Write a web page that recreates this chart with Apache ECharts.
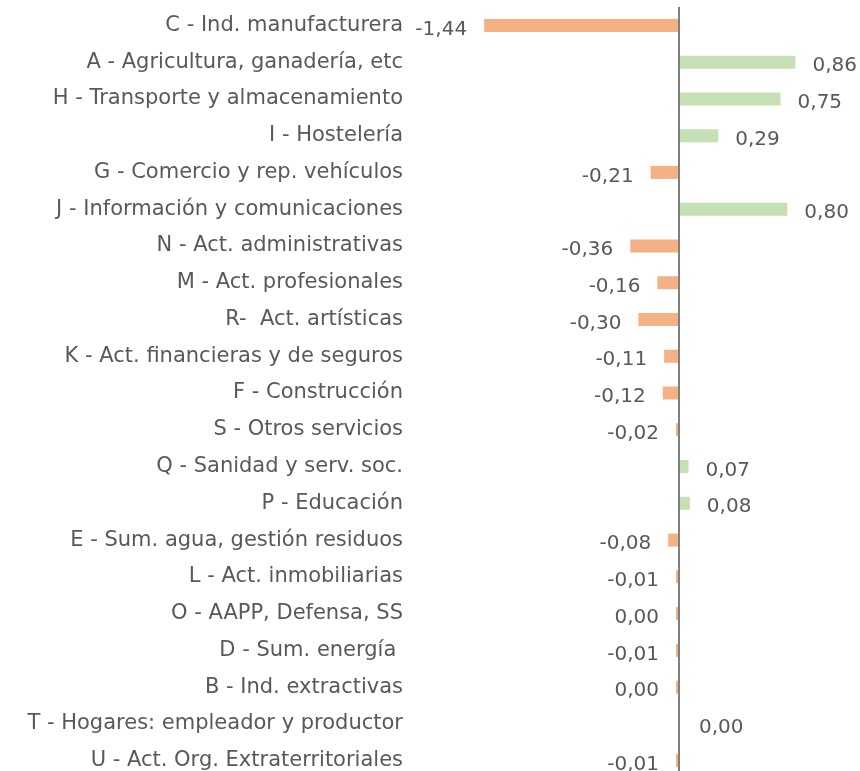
<!DOCTYPE html>
<html>
<head>
<meta charset="utf-8">
<script src="https://cdn.jsdelivr.net/npm/echarts@6/dist/echarts.min.js"></script>
<style>
  html, body { margin: 0; padding: 0; background: #fff; overflow: hidden; }
  #chart { width: 860px; height: 780px; }
</style>
</head>
<body>
<div id="chart"></div>
<script>
// sectores (de arriba a abajo)
var categorias = [
  "C - Ind. manufacturera",
  "A - Agricultura, ganadería, etc",
  "H - Transporte y almacenamiento",
  "I - Hostelería",
  "G - Comercio y rep. vehículos",
  "J - Información y comunicaciones",
  "N - Act. administrativas",
  "M - Act. profesionales",
  "R-  Act. artísticas",
  "K - Act. financieras y de seguros",
  "F - Construcción",
  "S - Otros servicios",
  "Q - Sanidad y serv. soc.",
  "P - Educación",
  "E - Sum. agua, gestión residuos",
  "L - Act. inmobiliarias",
  "O - AAPP, Defensa, SS",
  "D - Sum. energía ",
  "B - Ind. extractivas",
  "T - Hogares: empleador y productor",
  "U - Act. Org. Extraterritoriales"
];
// variación (puntos)
var valores = [-1.44, 0.86, 0.75, 0.29, -0.21, 0.80, -0.36, -0.16, -0.30, -0.11, -0.12,
  -0.02, 0.07, 0.08, -0.08, -0.014, -0.004, -0.014, -0.004, 0.0, -0.014];

var colorNeg = "#F4B183";
var colorPos = "#C5E0B4";

function fmt(v) {
  if (Math.abs(v) < 0.005) return "0,00";
  return v.toFixed(2).replace(".", ",");
}

var datos = valores.map(function (v) {
  var color = v < 0 ? colorNeg : colorPos;
  if (v === 0) color = "rgba(0,0,0,0)"; // sin barra visible
  return {
    value: v,
    itemStyle: { color: color },
    label: { position: v < 0 ? "left" : "right" }
  };
});

// el gráfico es algo más alto que la ventana: la última fila queda cortada como en el original
var chart = echarts.init(document.getElementById("chart"));
var option = {
  animation: false,
  grid: { left: 476, right: 5, top: 7, height: 772, containLabel: false },
  xAxis: {
    type: "value",
    min: -1.5,
    max: 1.3,
    show: false,
    splitLine: { show: false }
  },
  yAxis: {
    type: "category",
    inverse: true,
    data: categorias,
    axisLine: { show: false },
    axisTick: { show: false },
    axisLabel: {
      margin: 73,
      color: "#595959",
      fontSize: 21,
      fontFamily: "DejaVu Sans"
    }
  },
  series: [{
    type: "bar",
    data: datos,
    barWidth: 13,
    barMinHeight: 3,
    label: {
      show: true,
      distance: 17,
      offset: [0, 4],
      color: "#595959",
      fontSize: 20,
      fontFamily: "DejaVu Sans",
      formatter: function (p) { return fmt(p.value); }
    },
    markLine: {
      silent: true,
      symbol: "none",
      label: { show: false },
      lineStyle: { color: "#7F7F7F", width: 2, type: "solid" },
      data: [{ xAxis: 0 }]
    }
  }]
};
chart.setOption(option);
</script>
</body>
</html>
